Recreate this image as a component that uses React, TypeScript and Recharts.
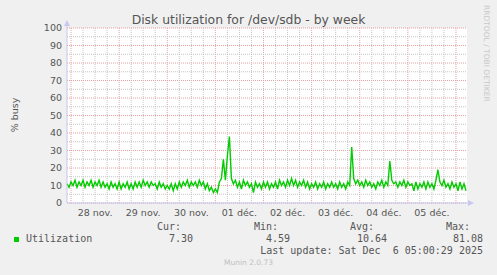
import { LineChart, Line, XAxis, YAxis, CartesianGrid, ReferenceLine } from 'recharts';

// hourly samples, starting 27 nov 22:00, last one 06 dec 05:00
const busy = [
  11, 9, 12, 10, 13, 9, 12, 10, 13, 9, 12, 10,
  13, 9, 12, 10, 13, 9, 12, 9, 11, 8, 12, 9,
  11, 8, 12, 8, 11, 9, 12, 8, 11, 8, 12, 9,
  12, 9, 13, 10, 12, 9, 12, 10, 11, 8, 12, 9,
  11, 8, 10, 8, 11, 7, 11, 8, 12, 9, 12, 10,
  13, 9, 12, 10, 12, 9, 13, 10, 12, 8, 11, 7,
  9, 6, 8, 6, 12, 14, 25, 13, 27, 38, 14, 11,
  13, 9, 12, 8, 13, 10, 12, 9, 11, 6, 12, 9,
  11, 8, 12, 9, 12, 8, 11, 9, 12, 8, 13, 10,
  12, 9, 13, 10, 14, 10, 13, 9, 12, 10, 13, 9,
  12, 8, 11, 9, 12, 8, 11, 9, 12, 8, 11, 9,
  12, 9, 11, 8, 12, 9, 11, 8, 12, 10, 32, 14,
  11, 13, 10, 12, 9, 13, 10, 12, 9, 11, 8, 12,
  10, 13, 9, 12, 10, 24, 13, 11, 12, 9, 12, 10,
  13, 9, 12, 10, 11, 7, 12, 8, 11, 9, 12, 8,
  12, 9, 11, 8, 13, 19, 12, 10, 13, 9, 11, 8,
  12, 9, 11, 7, 12, 8, 11, 7
];

const dayLabels = ['28 nov.', '29 nov.', '30 nov.', '01 déc.', '02 déc.', '03 déc.', '04 déc.', '05 déc.'];
const dayStarts = [2, 26, 50, 74, 98, 122, 146, 170, 194];
const labelTicks = [14, 38, 62, 86, 110, 134, 158, 182];
const quarterTicks = [8, 14, 20, 32, 38, 44, 56, 62, 68, 80, 86, 92, 104, 110, 116, 128, 134, 140, 152, 158, 164, 176, 182, 188];
const yTicks = [0, 10, 20, 30, 40, 50, 60, 70, 80, 90, 100];
const yMinor = [5, 15, 25, 35, 45, 55, 65, 75, 85, 95];

const statNames = ['Cur:', 'Min:', 'Avg:', 'Max:'];
const statValues = ['7.30', '4.59', '10.64', '81.08'];

const data = busy.map((v, i) => ({ t: i, v }));

const font = 'DejaVu Sans, sans-serif';
const mono = 'DejaVu Sans Mono, monospace';
const txt = '#555555';
const minorGrid = '#C4C4C4';

export default function App() {
  const headRight = [181, 278, 374, 470];
  const valRight = [193, 290, 387, 483];
  return (
    <div style={{ position: 'absolute', left: 0, top: 0, width: 497, height: 275, background: '#F0F0F0', overflow: 'hidden' }}>
      <div style={{ position: 'absolute', left: 0, width: 497, top: 12, textAlign: 'center', fontFamily: font, fontSize: 12.4, color: txt }}>
        Disk utilization for /dev/sdb - by week
      </div>
      <div style={{ position: 'absolute', left: 482, top: 5, writingMode: 'vertical-rl', fontFamily: font, fontSize: 7.5, color: '#C8C8C8', whiteSpace: 'pre' }}>
        RRDTOOL / TOBI OETIKER
      </div>
      <div style={{ position: 'absolute', left: 6, top: 115, transform: 'translate(-50%, -50%) rotate(-90deg)', transformOrigin: 'center', marginLeft: 8, fontFamily: font, fontSize: 9.5, color: txt, whiteSpace: 'nowrap' }}>
        % busy
      </div>

      <LineChart width={497} height={275} data={data} margin={{ top: 28, right: 30, bottom: 52, left: 0 }} style={{ position: 'absolute', left: 0, top: 0 }}>
        <CartesianGrid
          horizontalValues={yTicks}
          verticalValues={dayStarts}
          stroke="#E8A0A0"
          strokeDasharray="1 1"
          fill="#FFFFFF"
          fillOpacity={1}
        />
        {yMinor.map((y) => (
          <ReferenceLine key={'h' + y} y={y} stroke={minorGrid} strokeDasharray="1 1" />
        ))}
        {quarterTicks.map((t) => (
          <ReferenceLine key={'v' + t} x={t} stroke={minorGrid} strokeDasharray="1 1" />
        ))}
        <XAxis
          dataKey="t"
          type="number"
          domain={[0, 199.5]}
          ticks={labelTicks}
          tickFormatter={(t: number) => dayLabels[labelTicks.indexOf(t)]}
          tickLine={false}
          axisLine={{ stroke: '#C8C8F0' }}
          tickSize={4}
          height={20}
          tick={{ fill: txt, fontSize: 9.5, fontFamily: font }}
          interval={0}
        />
        <YAxis
          domain={[0, 100]}
          ticks={yTicks}
          tickLine={false}
          axisLine={{ stroke: '#C8C8F0' }}
          tickSize={5}
          tickMargin={0}
          width={67}
          tick={{ fill: txt, fontSize: 9.5, fontFamily: font }}
          interval={0}
        />
        <Line dataKey="v" stroke="#00CC00" strokeWidth={1.4} dot={false} isAnimationActive={false} />
      </LineChart>

      <svg width={497} height={275} style={{ position: 'absolute', left: 0, top: 0, pointerEvents: 'none' }}>
        <line x1={67} y1={28} x2={67} y2={22} stroke="#C8C8F0" />
        <polygon points="64,26 67,20 70,26" fill="#C8C8F0" />
        <line x1={467} y1={203} x2={470} y2={203} stroke="#C8C8F0" />
        <polygon points="468,200 474,203 468,206" fill="#C8C8F0" />
      </svg>

      <div style={{ position: 'absolute', left: 14, top: 237, width: 5, height: 5, background: '#00CC00' }} />
      <div style={{ position: 'absolute', left: 26, top: 233, fontFamily: mono, fontSize: 10, color: txt, lineHeight: '12px' }}>Utilization</div>
      {statNames.map((s, i) => (
        <div key={s} style={{ position: 'absolute', right: 497 - headRight[i], top: 221, fontFamily: mono, fontSize: 10, color: txt, lineHeight: '12px' }}>{s}</div>
      ))}
      {statValues.map((s, i) => (
        <div key={s} style={{ position: 'absolute', right: 497 - valRight[i], top: 233, fontFamily: mono, fontSize: 10, color: txt, lineHeight: '12px' }}>{s}</div>
      ))}
      <div style={{ position: 'absolute', right: 497 - 483, top: 245, fontFamily: mono, fontSize: 10, color: txt, lineHeight: '12px', whiteSpace: 'pre' }}>
        Last update: Sat Dec  6 05:00:29 2025
      </div>
      <div style={{ position: 'absolute', left: 0, width: 497, top: 258, textAlign: 'center', fontFamily: font, fontSize: 7.5, color: '#C0C0C0', lineHeight: '10px' }}>
        Munin 2.0.73
      </div>
    </div>
  );
}
